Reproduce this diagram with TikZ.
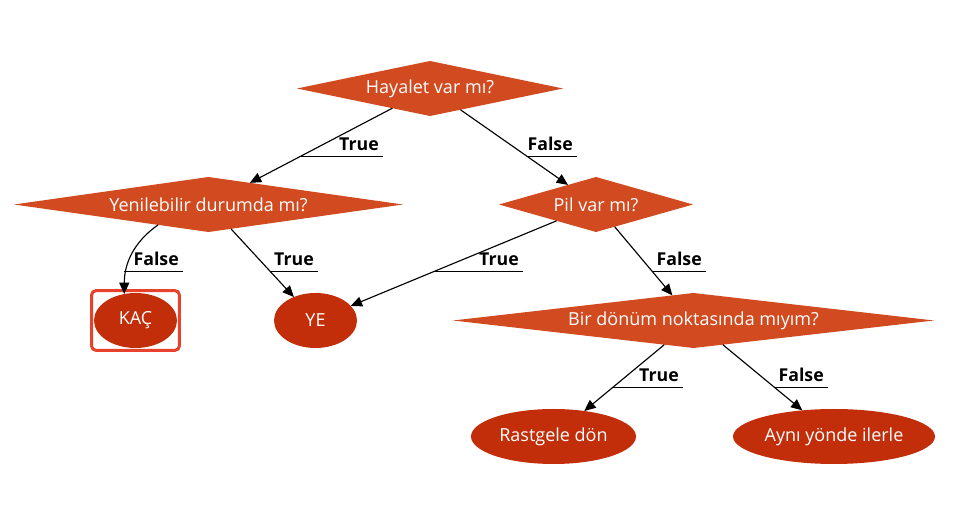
\documentclass[tikz,border=0pt]{standalone}
\usepackage{fontspec}
\setmainfont{Open Sans}
\usepackage{tikz}
\usetikzlibrary{positioning,shapes.geometric,arrows.meta,fit}
\definecolor{decisionfill}{RGB}{209,74,32}
\definecolor{actionfill}{RGB}{194,46,10}
\definecolor{markred}{RGB}{232,65,44}

\begin{document}
\begin{tikzpicture}[x=0.75pt,y=-0.75pt,
    every node/.style={font=\fontsize{13.5}{16}\selectfont},
    decision/.style={diamond,fill=decisionfill,text=white,inner sep=0pt,outer sep=0pt,minimum height=41.25pt},
    action/.style={ellipse,fill=actionfill,text=white,inner sep=0pt,outer sep=0pt,minimum height=41.25pt},
    lbl/.style={font=\bfseries\fontsize{13.3}{16}\selectfont,anchor=south east,inner xsep=3pt,inner ysep=4.9pt},
    edge/.style={-{Triangle[length=8.5pt,width=7.5pt]},line width=0.85pt}]
    \useasboundingbox (0,0) rectangle (968,523);
    \node[decision,minimum width=199.5pt,aspect=4.84] (Hay) at (430,88.5) {Hayalet var mı?};
    \node[decision,minimum width=291.75pt,aspect=7.07] (Yen) at (208.5,204.5) {Yenilebilir durumda mı?};
    \node[decision,minimum width=145.5pt,aspect=3.53] (Pil) at (596,204.5) {Pil var mı?};
    \node[decision,minimum width=360.75pt,aspect=8.75] (Bir) at (693.5,320.5) {Bir dönüm noktasında mıyım?};
    \node[action,minimum width=62.25pt] (Kac) at (135.5,320.5) {KAÇ};
    \node[action,minimum width=62.25pt] (Ye) at (315.5,320.5) {YE};
    \node[action,minimum width=123.75pt] (Rast) at (553.5,436.5) {Rastgele dön};
    \node[action,minimum width=151.5pt] (Ayni) at (834,436.5) {Aynı yönde ilerle};
    \node[draw=markred,line width=2.25pt,rounded corners=3pt,inner sep=1.7pt,fit=(Kac)] (KacMark) {};
    \node[lbl] (tHay) at (383,157) {True};
    \node[lbl] (fHay) at (577,157) {False};
    \node[lbl] (fYen) at (183,272) {False};
    \node[lbl] (tYen) at (318,272) {True};
    \node[lbl] (tPil) at (523,272) {True};
    \node[lbl] (fPil) at (706,272) {False};
    \node[lbl] (tBir) at (683,388) {True};
    \node[lbl] (fBir) at (828,388) {False};
    \draw[edge] (Hay) -- coordinate[pos=0.653] (mHayT) (Yen);
    \draw[edge] (Hay) -- coordinate[pos=0.631] (mHayF) (Pil);
    \draw[edge] (Yen.202) to[out=215,in=90] (Kac.113);
    \draw[edge] (Yen) -- coordinate[pos=0.632] (mYenT) (Ye);
    \draw[edge] (Pil) -- coordinate[pos=0.602] (mPilT) (Ye);
    \draw[edge] (Pil) -- coordinate[pos=0.659] (mPilF) (Bir);
    \draw[edge] (Bir) -- coordinate[pos=0.653] (mBirT) (Rast);
    \draw[edge] (Bir) -- coordinate[pos=0.659] (mBirF) (Ayni);
    \draw[line width=0.75pt] (tHay.south east) -- (mHayT |- tHay.south east);
    \draw[line width=0.75pt] (fHay.south east) -- (mHayF |- fHay.south east);
    \draw[line width=0.75pt] (fYen.south east) -- (Kac.113 |- fYen.south east);
    \draw[line width=0.75pt] (tYen.south east) -- (mYenT |- tYen.south east);
    \draw[line width=0.75pt] (tPil.south east) -- (mPilT |- tPil.south east);
    \draw[line width=0.75pt] (fPil.south east) -- (mPilF |- fPil.south east);
    \draw[line width=0.75pt] (tBir.south east) -- (mBirT |- tBir.south east);
    \draw[line width=0.75pt] (fBir.south east) -- (mBirF |- fBir.south east);
\end{tikzpicture}
\end{document}
